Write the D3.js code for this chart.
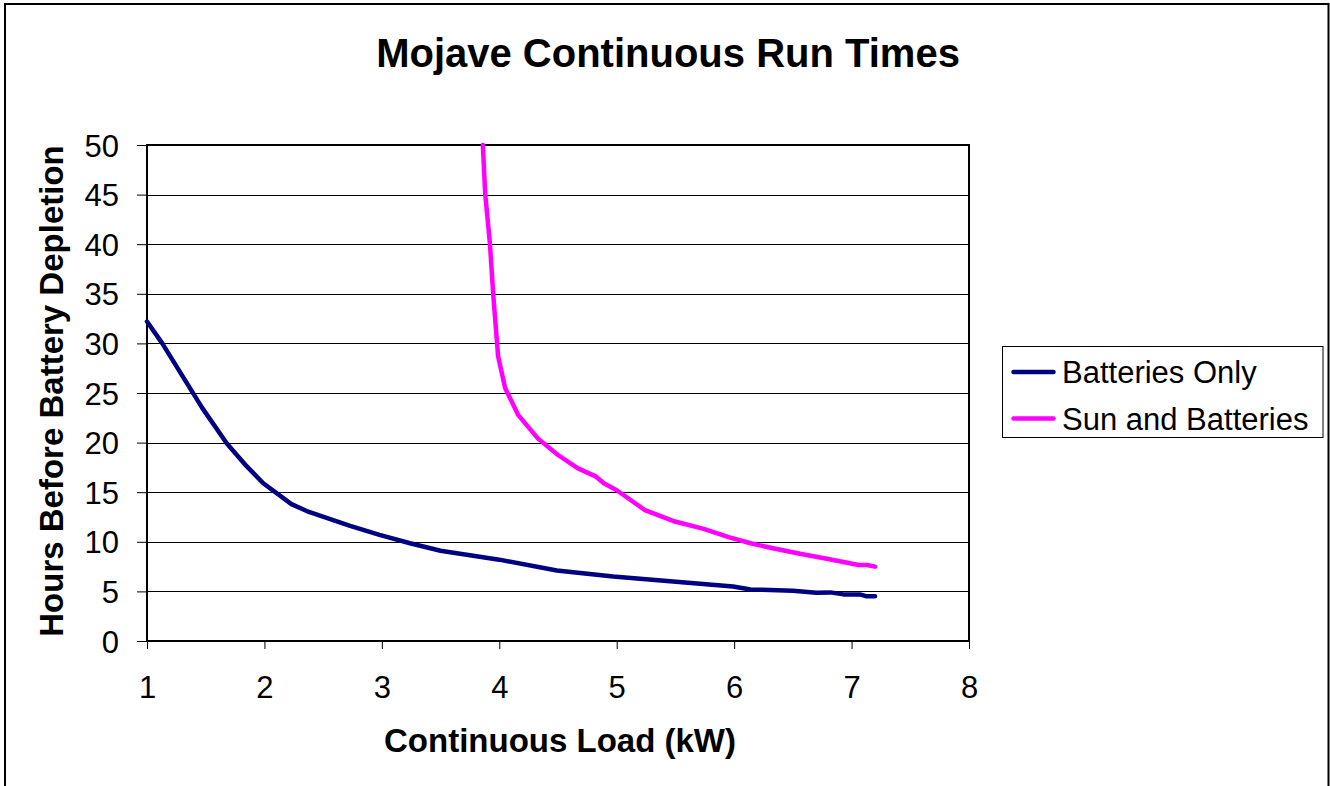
<!DOCTYPE html>
<html>
<head>
<meta charset="utf-8">
<script src="https://cdn.jsdelivr.net/npm/d3@7"></script>
<style>
  html, body { margin: 0; padding: 0; background: #fff; }
  svg { display: block; font-family: "Liberation Sans", Arial, sans-serif; }
</style>
</head>
<body>
<svg id="chart" width="1330" height="786"></svg>
<script>
// Data
const batteriesLoad = [1, 1.13, 1.47, 1.68, 1.85, 1.99, 2.23, 2.36, 2.73, 2.98, 3.24, 3.5, 4.0, 4.49, 4.97, 5.48, 5.99, 6.14, 6.5, 6.7, 6.82, 6.93, 7.07, 7.13, 7.2];
const batteriesHours = [32.2, 30.0, 23.5, 19.9, 17.6, 15.9, 13.8, 13.1, 11.6, 10.7, 9.85, 9.1, 8.2, 7.1, 6.5, 6.0, 5.5, 5.2, 5.07, 4.87, 4.9, 4.7, 4.7, 4.5, 4.5];

const sunLoad = [3.86, 3.88, 3.92, 3.95, 3.99, 4.05, 4.16, 4.33, 4.5, 4.67, 4.82, 4.89, 5.0, 5.24, 5.48, 5.74, 5.96, 6.14, 6.33, 6.56, 6.79, 7.06, 7.13, 7.2];
const sunHours = [50, 45.1, 40.1, 34.7, 28.7, 25.5, 22.8, 20.4, 18.75, 17.4, 16.6, 15.9, 15.2, 13.2, 12.1, 11.3, 10.45, 9.85, 9.35, 8.8, 8.3, 7.66, 7.66, 7.5];

const seriesNames = ['Batteries Only', 'Sun and Batteries'];
const seriesColors = ['#000080', '#ff00ff'];
const xTicks = [1, 2, 3, 4, 5, 6, 7, 8];
const yTicks = [0, 5, 10, 15, 20, 25, 30, 35, 40, 45, 50];

const series = [
    { name: seriesNames[0], color: seriesColors[0], pts: batteriesLoad.map((x, i) => [x, batteriesHours[i]]) },
    { name: seriesNames[1], color: seriesColors[1], pts: sunLoad.map((x, i) => [x, sunHours[i]]) }
];

const svg = d3.select('#chart');

// outer chart border (bottom edge runs off the page)
svg.append('rect')
    .attr('x', 5).attr('y', 4)
    .attr('width', 1323.5).attr('height', 800)
    .attr('fill', 'none')
    .attr('stroke', '#000')
    .attr('stroke-width', 2);

const plot = { left: 147, top: 145, right: 969, bottom: 641 };

const x = d3.scaleLinear().domain([1, 8]).range([plot.left, plot.right]);
const y = d3.scaleLinear().domain([0, 50]).range([plot.bottom, plot.top]);

// gridlines
svg.append('g')
    .selectAll('line')
    .data(yTicks.filter(d => d > 0 && d < 50))
    .join('line')
    .attr('x1', plot.left).attr('x2', plot.right)
    .attr('y1', d => Math.round(y(d)) + 0.5).attr('y2', d => Math.round(y(d)) + 0.5)
    .attr('stroke', '#000')
    .attr('stroke-width', 1);

// axes
const yAxis = svg.append('g')
    .attr('transform', `translate(${plot.left},0)`)
    .call(d3.axisLeft(y).tickValues(yTicks).tickFormat(d3.format('d')).tickSize(10).tickPadding(18));
const xAxis = svg.append('g')
    .attr('transform', `translate(0,${plot.bottom})`)
    .call(d3.axisBottom(x).tickValues(xTicks).tickFormat(d3.format('d')).tickSize(8).tickPadding(27));

[xAxis, yAxis].forEach(ax => {
    ax.select('.domain').remove();
    ax.selectAll('line').attr('stroke', '#000');
    ax.selectAll('text')
        .attr('fill', '#000')
        .style('font-size', '31px')
        .style('font-family', '"Liberation Sans", Arial, sans-serif');
});
yAxis.selectAll('text').attr('dy', '0.36em');

// plot frame
svg.append('rect')
    .attr('x', plot.left).attr('y', plot.top)
    .attr('width', plot.right - plot.left)
    .attr('height', plot.bottom - plot.top)
    .attr('fill', 'none')
    .attr('stroke', '#000')
    .attr('stroke-width', 2);

// lines
const line = d3.line()
    .x(d => x(d[0]))
    .y(d => y(d[1]));

svg.append('g')
    .selectAll('path')
    .data(series)
    .join('path')
    .attr('d', d => line(d.pts))
    .attr('fill', 'none')
    .attr('stroke', d => d.color)
    .attr('stroke-width', 4.5)
    .attr('stroke-linejoin', 'round')
    .attr('stroke-linecap', 'round');

// titles
svg.append('text')
    .attr('x', 668).attr('y', 67)
    .attr('text-anchor', 'middle')
    .style('font-size', '40px')
    .style('font-weight', 'bold')
    .text('Mojave Continuous Run Times');

svg.append('text')
    .attr('x', 560)
    .attr('y', 752)
    .attr('text-anchor', 'middle')
    .style('font-size', '33px')
    .style('font-weight', 'bold')
    .text('Continuous Load (kW)');

svg.append('text')
    .attr('transform', `translate(63,391) rotate(-90)`)
    .attr('text-anchor', 'middle')
    .style('font-size', '33px')
    .style('font-weight', 'bold')
    .text('Hours Before Battery Depletion');

// legend
const legend = svg.append('g').attr('transform', 'translate(1002.5,346.5)');
legend.append('rect')
    .attr('width', 320.5).attr('height', 91)
    .attr('fill', '#fff')
    .attr('stroke', '#000')
    .attr('stroke-width', 1);

const rows = legend.selectAll('g')
    .data(series)
    .join('g')
    .attr('transform', (d, i) => `translate(0,${25.5 + i * 46.5})`);
rows.append('line')
    .attr('x1', 11).attr('x2', 51)
    .attr('stroke', d => d.color)
    .attr('stroke-width', 4.5)
    .attr('stroke-linecap', 'round');
rows.append('text')
    .attr('x', 59.5)
    .attr('dy', '0.36em')
    .style('font-size', '31px')
    .text(d => d.name);
</script>
</body>
</html>
